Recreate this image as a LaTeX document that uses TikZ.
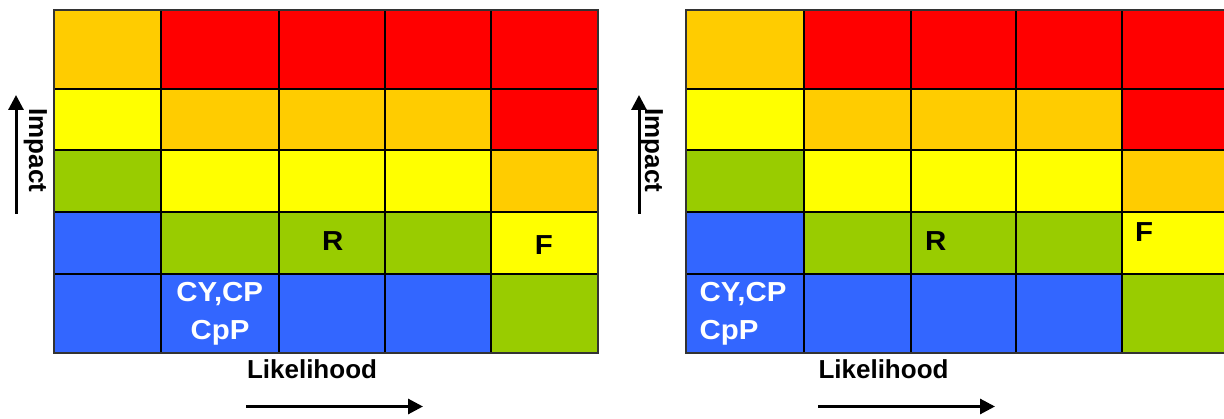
\documentclass[tikz,border=0pt]{standalone}
\usepackage{fontspec}
\setmainfont{Liberation Sans}
\usetikzlibrary{arrows.meta}
\definecolor{risk0}{HTML}{FF0000}
\definecolor{risk1}{HTML}{FFCC00}
\definecolor{risk2}{HTML}{FFFF00}
\definecolor{risk3}{HTML}{99CC00}
\definecolor{risk4}{HTML}{3366FF}
\definecolor{framegray}{HTML}{333333}
\newcommand\riskgrid[1]{%
  \foreach \ya/\yb/\row in {10/89/{1,0,0,0,0}, 89/150/{2,1,1,1,0}, 150/212/{3,2,2,2,1}, 212/274/{4,3,3,3,2}, 274/353/{4,4,4,4,3}} {
    \foreach \k [count=\i from 0] in \row {
      \pgfmathsetmacro\xa{{#1}[\i]}
      \pgfmathsetmacro\xb{{#1}[\i+1]}
      \filldraw[cell, fill=risk\k] (\xa,\ya) rectangle (\xb,\yb);
    }
  }
  \pgfmathsetmacro\xa{{#1}[0]}
  \pgfmathsetmacro\xb{{#1}[5]}
  \draw[frame] (\xa,10) rectangle (\xb,353);
}
\begin{document}
\begin{tikzpicture}[x=1pt,y=-1pt,
  cell/.style={draw=black, line width=1.2pt},
  frame/.style={draw=framegray, line width=1.6pt},
  lbl/.style={font=\fontsize{26}{30}\selectfont\bfseries, inner sep=0pt},
  clbl/.style={font=\fontsize{27.5}{32}\selectfont\bfseries, inner sep=0pt, xscale=1.07},
  arr/.style={line width=3pt, -{Triangle[length=15pt,width=15pt]}}]
\useasboundingbox (0,0) rectangle (1224,419);
% left grid
\riskgrid{54,161,279,385,491,598}
\node[clbl, anchor=base] (rL) at (332.7,250.7) {R};
\node[clbl, anchor=base] (fL) at (543.8,255) {F};
\node[clbl, white, anchor=base] (cyL) at (219.7,301.7) {CY,CP};
\node[clbl, white, anchor=base] (cppL) at (220,340) {CpP};
\node[lbl, anchor=base] (likL) at (312,379) {Likelihood};
\node[lbl, anchor=base, rotate=-90] (impL) at (29,150.5) {Impact};
\coordinate (vL1) at (16,214);
\coordinate (vL2) at (16,95);
\draw[arr] (vL1) -- (vL2);
\coordinate (hL1) at (246,406.5);
\coordinate (hL2) at (423,406.5);
\draw[arr] (hL1) -- (hL2);
% right grid
\riskgrid{686,804,911,1016,1122,1232}
\node[clbl, anchor=base] (rR) at (935.7,250.7) {R};
\node[clbl, anchor=base west] (fR) at (1135,241.7) {F};
\node[clbl, white, anchor=base west] (cyR) at (699.5,301.7) {CY,CP};
\node[clbl, white, anchor=base west] (cppR) at (699.5,340) {CpP};
\node[lbl, anchor=base] (likR) at (883.5,379) {Likelihood};
\node[lbl, anchor=base, rotate=-90] (impR) at (645,150.5) {Impact};
\coordinate (vR1) at (639,214);
\coordinate (vR2) at (639,95);
\draw[arr] (vR1) -- (vR2);
\coordinate (hR1) at (818,406.5);
\coordinate (hR2) at (995,406.5);
\draw[arr] (hR1) -- (hR2);
\end{tikzpicture}
\end{document}
